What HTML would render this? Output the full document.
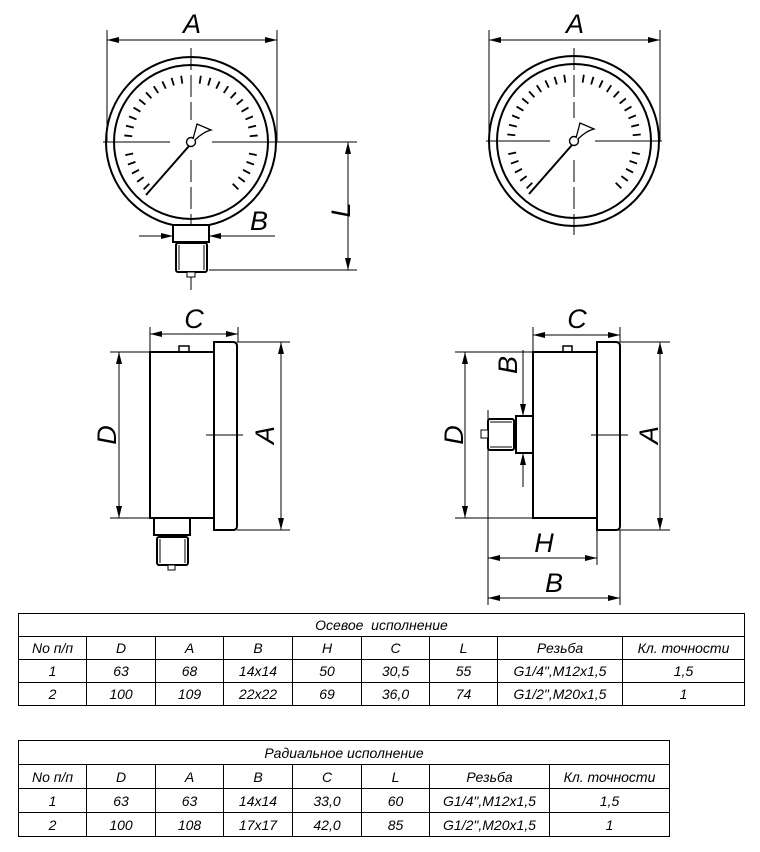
<!DOCTYPE html>
<html><head><meta charset="utf-8"><style>
body{margin:0;background:#fff;width:760px;height:852px;overflow:hidden;position:relative;font-family:"Liberation Sans",sans-serif}
svg{position:absolute;left:0;top:0}
table{position:absolute;border-collapse:collapse;font-style:italic;font-size:14px;color:#000}
td{border:1.5px solid #000;text-align:center;padding:0;height:22px}
</style></head><body>
<svg width="760" height="852" viewBox="0 0 760 852">
<defs>
<marker id="ar" viewBox="0 0 12 6" refX="12" refY="3" markerWidth="12" markerHeight="6" orient="auto-start-reverse" markerUnits="userSpaceOnUse"><path d="M0,0 L12,3 L0,6z" fill="#000"/></marker>
<g id="dial">
<circle r="85" fill="none" stroke="#000" stroke-width="2"/>
<circle r="77" fill="none" stroke="#000" stroke-width="2"/>
<g stroke="#000" stroke-width="1.8">
<line y1="-67" y2="-59" transform="rotate(-135)"/><line y1="-67" y2="-59" transform="rotate(-126.56)"/><line y1="-67" y2="-59" transform="rotate(-118.13)"/><line y1="-67" y2="-59" transform="rotate(-109.69)"/><line y1="-67" y2="-59" transform="rotate(-101.25)"/><line y1="-67" y2="-59" transform="rotate(-84.38)"/><line y1="-67" y2="-59" transform="rotate(-75.94)"/><line y1="-67" y2="-59" transform="rotate(-67.5)"/><line y1="-67" y2="-59" transform="rotate(-59.06)"/><line y1="-67" y2="-59" transform="rotate(-50.63)"/><line y1="-67" y2="-59" transform="rotate(-42.19)"/><line y1="-67" y2="-59" transform="rotate(-33.75)"/><line y1="-67" y2="-59" transform="rotate(-25.31)"/><line y1="-67" y2="-59" transform="rotate(-16.88)"/><line y1="-67" y2="-59" transform="rotate(-8.44)"/><line y1="-67" y2="-59" transform="rotate(8.44)"/><line y1="-67" y2="-59" transform="rotate(16.88)"/><line y1="-67" y2="-59" transform="rotate(25.31)"/><line y1="-67" y2="-59" transform="rotate(33.75)"/><line y1="-67" y2="-59" transform="rotate(42.19)"/><line y1="-67" y2="-59" transform="rotate(50.63)"/><line y1="-67" y2="-59" transform="rotate(59.06)"/><line y1="-67" y2="-59" transform="rotate(67.5)"/><line y1="-67" y2="-59" transform="rotate(75.94)"/><line y1="-67" y2="-59" transform="rotate(84.38)"/><line y1="-67" y2="-59" transform="rotate(101.25)"/><line y1="-67" y2="-59" transform="rotate(109.69)"/><line y1="-67" y2="-59" transform="rotate(118.13)"/><line y1="-67" y2="-59" transform="rotate(126.56)"/><line y1="-67" y2="-59" transform="rotate(135)"/>
</g>
<g stroke="#000" stroke-width="1" fill="none">
<line x1="-2" y1="4" x2="-45" y2="53" stroke-width="2"/>
<circle r="4.5" fill="#fff" stroke-width="1.4"/>
<path d="M2,-3 L6,-18 L20,-12 Q12,-10 4,-2" stroke-width="1.3" fill="#fff"/>
</g>
</g>
</defs>
<g stroke="#000" stroke-width="1" fill="none">
<use href="#dial" x="191" y="142"/>
<line x1="103" y1="142" x2="170" y2="142"/><line x1="212" y1="142" x2="357" y2="142"/>
<line x1="191" y1="48" x2="191" y2="120" stroke-dasharray="22,5"/><line x1="191" y1="160" x2="191" y2="290" stroke-dasharray="22,5"/>
<line x1="107" y1="30" x2="107" y2="142"/><line x1="277" y1="30" x2="277" y2="142"/>
<line x1="107" y1="40" x2="277" y2="40" marker-start="url(#ar)" marker-end="url(#ar)"/>
<rect x="173" y="225" width="36" height="17" stroke-width="2" fill="#fff"/>
<rect x="176" y="243" width="31" height="29" rx="2" stroke-width="2" fill="#fff"/>
<line x1="179" y1="245" x2="179" y2="270"/><line x1="204" y1="245" x2="204" y2="270"/>
<rect x="187" y="272" width="8" height="5" fill="#fff"/>
<line x1="139" y1="236" x2="173" y2="236" marker-end="url(#ar)"/>
<line x1="275" y1="236" x2="209" y2="236" marker-end="url(#ar)"/>
<line x1="209" y1="270" x2="357" y2="270"/>
<line x1="348" y1="142" x2="348" y2="270" marker-start="url(#ar)" marker-end="url(#ar)"/>
<use href="#dial" x="574" y="141"/>
<line x1="486" y1="141" x2="550" y2="141"/><line x1="595" y1="141" x2="662" y2="141"/>
<line x1="574" y1="48" x2="574" y2="118" stroke-dasharray="22,5"/><line x1="574" y1="160" x2="574" y2="235" stroke-dasharray="22,5"/>
<line x1="489" y1="30" x2="489" y2="141"/><line x1="660" y1="30" x2="660" y2="141"/>
<line x1="489" y1="40" x2="660" y2="40" marker-start="url(#ar)" marker-end="url(#ar)"/>
<line x1="150" y1="327" x2="150" y2="352"/><line x1="238" y1="327" x2="238" y2="342"/>
<line x1="150" y1="334" x2="238" y2="334" marker-start="url(#ar)" marker-end="url(#ar)"/>
<rect x="179" y="346" width="10" height="6" stroke-width="1.5" fill="#fff"/>
<rect x="150" y="352" width="64" height="166" stroke-width="2" fill="#fff"/>
<path d="M214,342 H233 Q237,342 237,346 V526 Q237,530 233,530 H214 Z" stroke-width="2" fill="#fff"/>
<rect x="154" y="518" width="36" height="17" stroke-width="2" fill="#fff"/>
<rect x="157" y="537" width="31" height="28" rx="2" stroke-width="2" fill="#fff"/>
<line x1="160" y1="539" x2="160" y2="563"/><line x1="185" y1="539" x2="185" y2="563"/>
<rect x="168" y="565" width="7" height="5" fill="#fff"/>
<line x1="110" y1="352" x2="150" y2="352"/><line x1="110" y1="518" x2="150" y2="518"/>
<line x1="119" y1="352" x2="119" y2="518" marker-start="url(#ar)" marker-end="url(#ar)"/>
<line x1="237" y1="342" x2="290" y2="342"/><line x1="237" y1="530" x2="290" y2="530"/>
<line x1="281" y1="342" x2="281" y2="530" marker-start="url(#ar)" marker-end="url(#ar)"/>
<line x1="206" y1="435" x2="243" y2="435"/>
<line x1="533" y1="327" x2="533" y2="352"/><line x1="620" y1="327" x2="620" y2="342"/>
<line x1="533" y1="335" x2="620" y2="335" marker-start="url(#ar)" marker-end="url(#ar)"/>
<rect x="563" y="346" width="9" height="6" stroke-width="1.5" fill="#fff"/>
<rect x="533" y="352" width="64" height="166" stroke-width="2" fill="#fff"/>
<path d="M597,342 H616 Q620,342 620,346 V526 Q620,530 616,530 H597 Z" stroke-width="2" fill="#fff"/>
<rect x="516" y="416" width="17" height="37" stroke-width="2" fill="#fff"/>
<rect x="488" y="419" width="26" height="31" rx="2" stroke-width="2" fill="#fff"/>
<line x1="490" y1="422" x2="512" y2="422"/><line x1="490" y1="447" x2="512" y2="447"/>
<rect x="481" y="430" width="7" height="8" fill="#fff"/>
<line x1="523" y1="350" x2="523" y2="416" marker-end="url(#ar)"/>
<line x1="523" y1="487" x2="523" y2="453" marker-end="url(#ar)"/>
<line x1="455" y1="352" x2="533" y2="352"/><line x1="455" y1="518" x2="533" y2="518"/>
<line x1="465" y1="352" x2="465" y2="518" marker-start="url(#ar)" marker-end="url(#ar)"/>
<line x1="620" y1="342" x2="670" y2="342"/><line x1="620" y1="530" x2="670" y2="530"/>
<line x1="660" y1="342" x2="660" y2="530" marker-start="url(#ar)" marker-end="url(#ar)"/>
<line x1="591" y1="435" x2="628" y2="435"/>
<line x1="488" y1="410" x2="488" y2="605"/><line x1="597" y1="530" x2="597" y2="565"/><line x1="620" y1="530" x2="620" y2="605"/>
<line x1="488" y1="558" x2="597" y2="558" marker-start="url(#ar)" marker-end="url(#ar)"/>
<line x1="488" y1="598" x2="620" y2="598" marker-start="url(#ar)" marker-end="url(#ar)"/>
</g>
<g font-family="Liberation Sans, sans-serif" font-style="italic" font-size="27" text-anchor="middle" fill="#000">
<text x="192" y="33">A</text>
<text x="575" y="33">A</text>
<text x="259" y="230">B</text>
<text transform="translate(350,210) rotate(-90)">L</text>
<text x="194" y="328">C</text>
<text x="577" y="328">C</text>
<text transform="translate(116,435) rotate(-90)">D</text>
<text transform="translate(274,435) rotate(-90)">A</text>
<text transform="translate(463,435) rotate(-90)">D</text>
<text transform="translate(517,365) rotate(-90)">B</text>
<text transform="translate(658,435) rotate(-90)">A</text>
<text x="544" y="552">H</text>
<text x="554" y="592">B</text>
</g>
</svg>
<table style="left:18px;top:613px;width:727px">
<tr><td colspan="9">Осевое&nbsp; исполнение</td></tr>
<tr><td style="width:67px">No п/п</td><td style="width:68px">D</td><td style="width:67px">A</td><td style="width:68px">B</td><td style="width:68px">H</td><td style="width:67px">C</td><td style="width:67px">L</td><td style="width:124px">Резьба</td><td>Кл. точности</td></tr>
<tr><td>1</td><td>63</td><td>68</td><td>14x14</td><td>50</td><td>30,5</td><td>55</td><td>G1/4",M12x1,5</td><td>1,5</td></tr>
<tr><td>2</td><td>100</td><td>109</td><td>22x22</td><td>69</td><td>36,0</td><td>74</td><td>G1/2",M20x1,5</td><td>1</td></tr>
</table>
<table style="left:18px;top:740px;width:652px">
<tr><td colspan="8" style="height:23px">Радиальное исполнение</td></tr>
<tr><td style="width:67px;height:23px">No п/п</td><td style="width:68px">D</td><td style="width:67px">A</td><td style="width:68px">B</td><td style="width:68px">C</td><td style="width:67px">L</td><td style="width:119px">Резьба</td><td>Кл. точности</td></tr>
<tr><td style="height:23px">1</td><td>63</td><td>63</td><td>14x14</td><td>33,0</td><td>60</td><td>G1/4",M12x1,5</td><td>1,5</td></tr>
<tr><td style="height:23px">2</td><td>100</td><td>108</td><td>17x17</td><td>42,0</td><td>85</td><td>G1/2",M20x1,5</td><td>1</td></tr>
</table>
</body></html>
